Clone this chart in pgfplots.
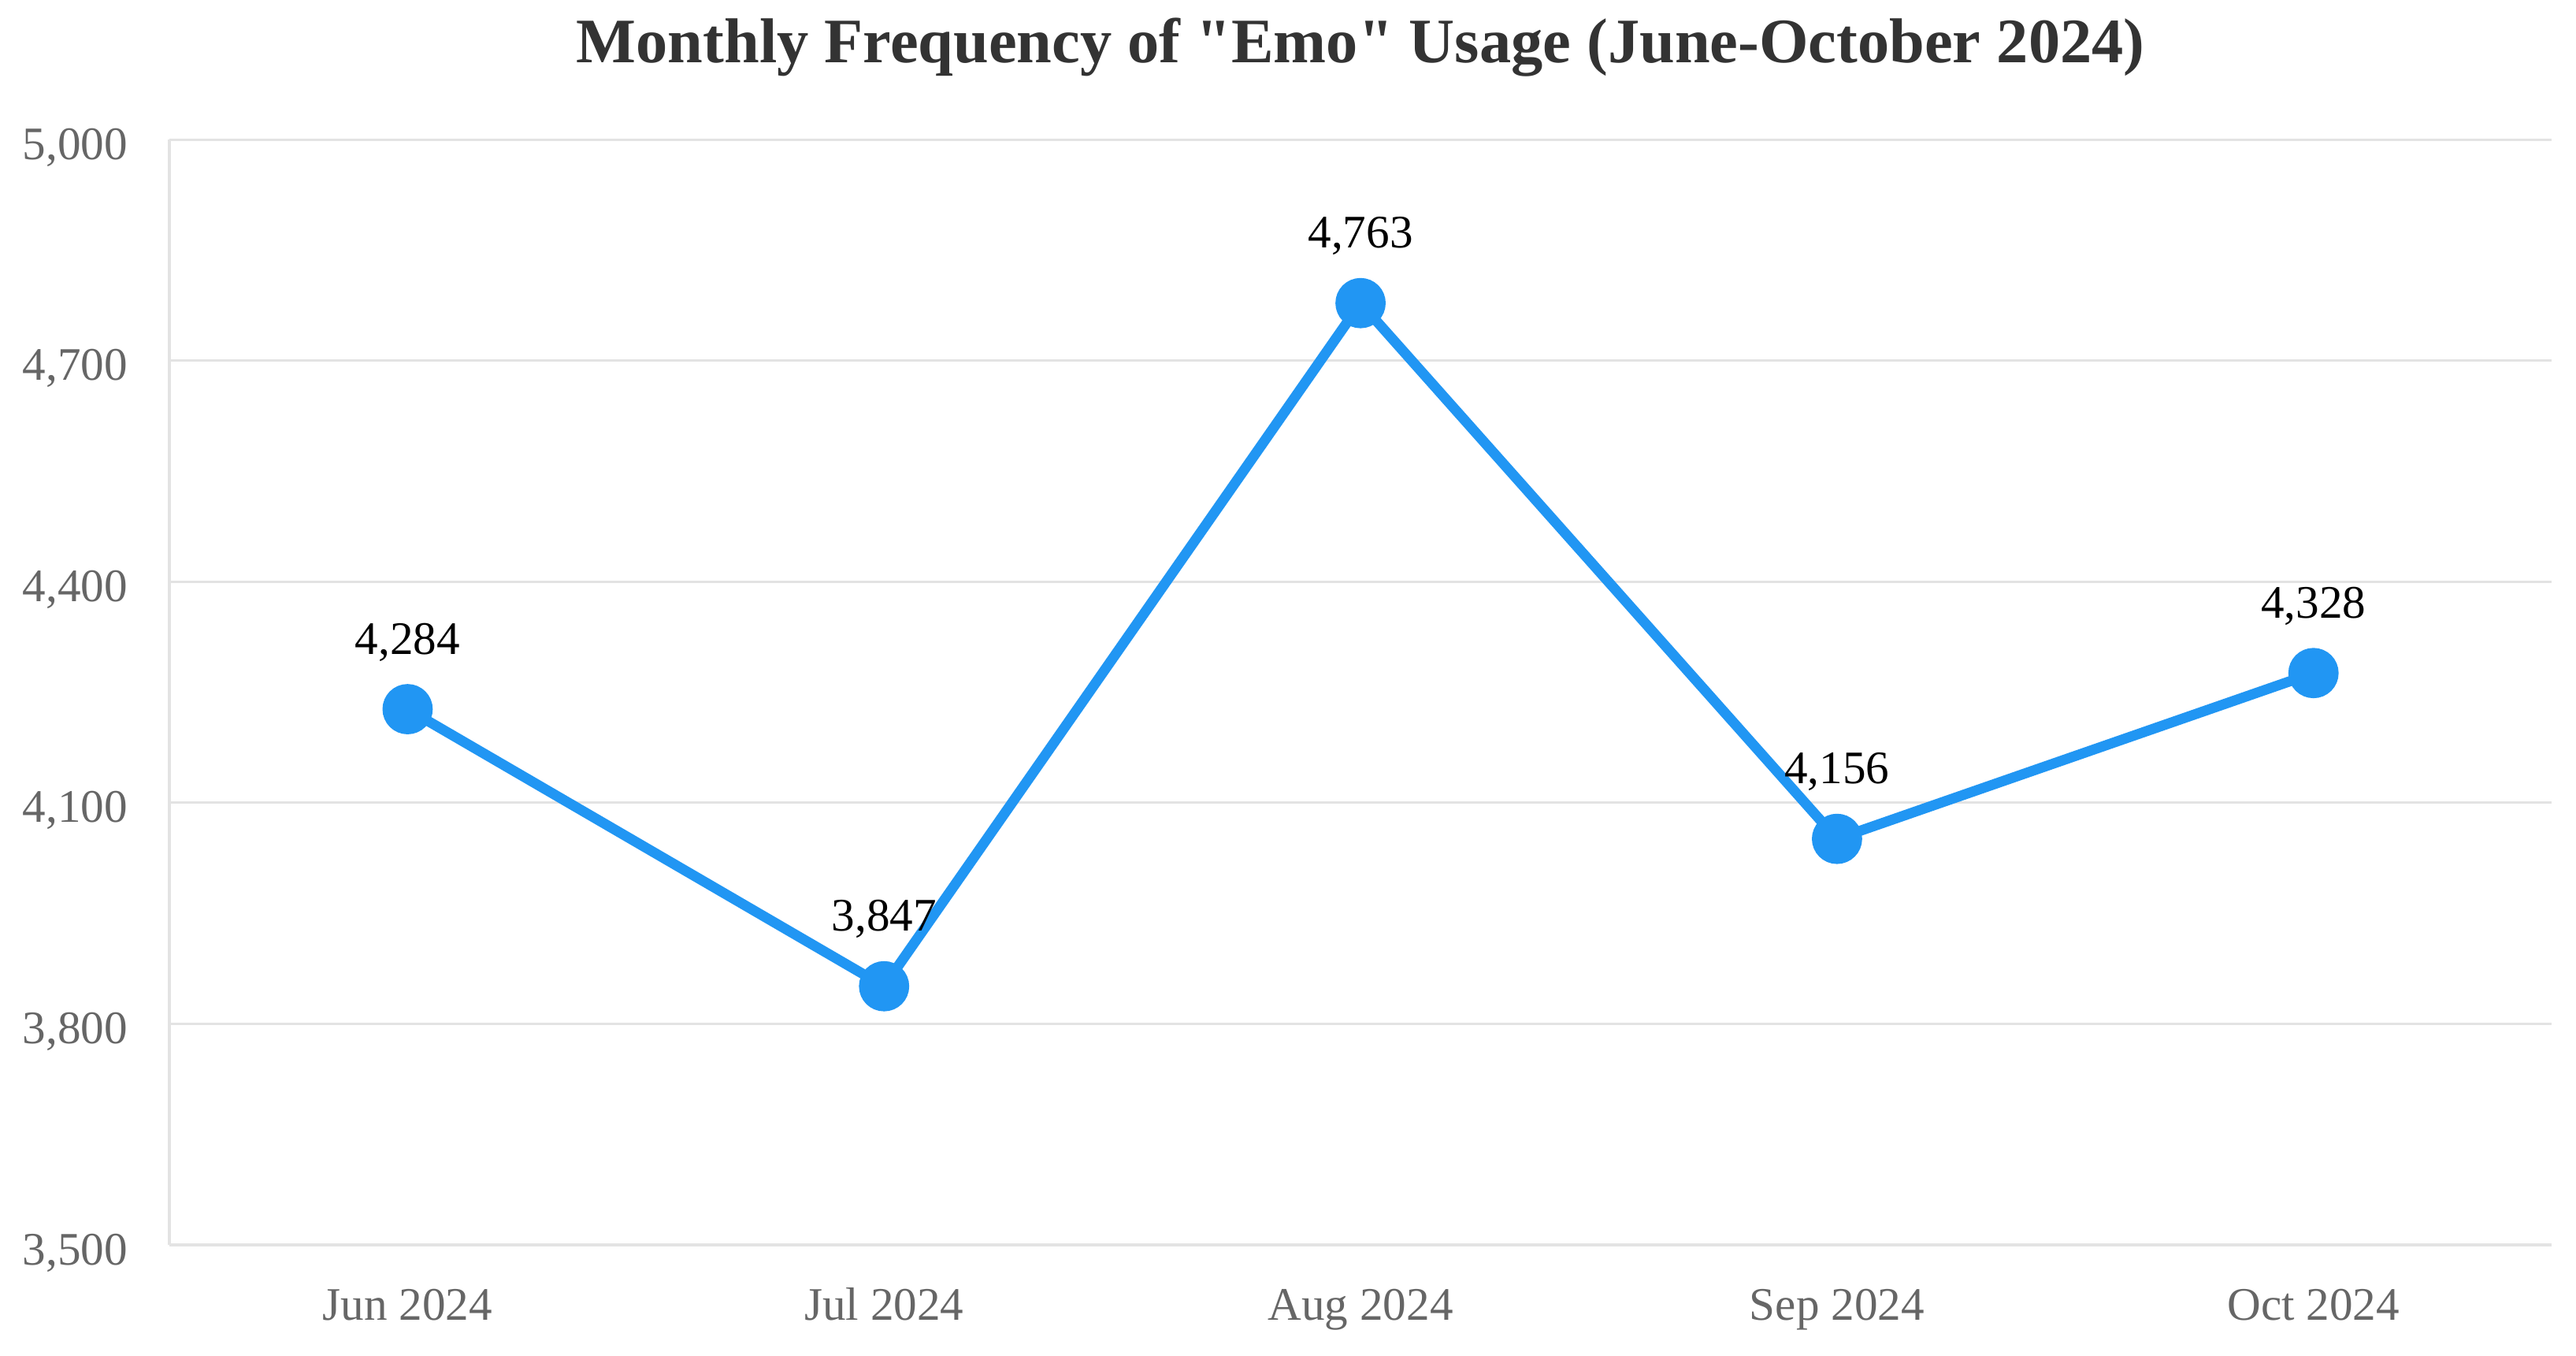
\documentclass[border=0pt]{standalone}
\usepackage{fontspec}
\setmainfont{Liberation Serif}[Ligatures=TeXOff]
\usepackage{pgfplots}
\usepackage{pgfplotstable}
\pgfplotsset{compat=1.18}
\definecolor{lineblue}{HTML}{2196F3}
\definecolor{gridgray}{HTML}{E3E3E3}
\definecolor{ticktext}{HTML}{666666}
\definecolor{titletext}{HTML}{333333}
\pgfplotstableread{
x y label
0 4227 4,284
1 3851 3,847
2 4778 4,763
3 4051 4,156
4 4276 4,328
}\datatable
\begin{document}
\begin{tikzpicture}
\useasboundingbox (0,0) rectangle (784.8pt,412.8pt);
\begin{axis}[
  at={(51.6pt,33.6pt)}, anchor=south west,
  scale only axis, width=725.8pt, height=336.7pt,
  xmin=-0.5, xmax=4.5, ymin=3500, ymax=5000,
  xtick={0,1,2,3,4},
  xticklabels={Jun 2024,Jul 2024,Aug 2024,Sep 2024,Oct 2024},
  ytick={3500,3800,4100,4400,4700,5000},
  axis x line*=bottom, axis y line*=left,
  axis line style={-, draw=gridgray, line width=1pt},
  ymajorgrids, grid style={draw=gridgray, line width=0.7pt},
  major tick length=0pt,
  /pgf/number format/.cd, fixed, 1000 sep={,}, assume math mode=true,
  /pgfplots/.cd,
  xticklabel style={font=\fontsize{14.2}{17}\selectfont, text=ticktext, anchor=base, inner sep=0pt, yshift=-22.8pt},
  yticklabel style={font=\fontsize{14.2}{17}\selectfont, text=ticktext, anchor=base east, inner sep=0pt, xshift=-12.5pt, yshift=-6pt},
  title={Monthly Frequency of \char34Emo\char34{} Usage (June-October 2024)},
  title style={font=\bfseries\fontsize{19.3}{23}\selectfont, text=titletext, at={(axis description cs:0.5,1)}, anchor=base, inner sep=0pt, yshift=17.3pt},
  clip=false,
]
\addplot[color=lineblue, line width=3.1pt, mark=*, mark size=6.1pt,
  mark options={draw=none, fill=lineblue},
  point meta=explicit symbolic,
  nodes near coords,
  nodes near coords style={font=\fontsize{14.2}{17}\selectfont, text=black, anchor=base, inner sep=0pt, yshift=16.8pt}]
  table[x=x, y=y, meta=label] {\datatable};
\end{axis}
\end{tikzpicture}
\end{document}
